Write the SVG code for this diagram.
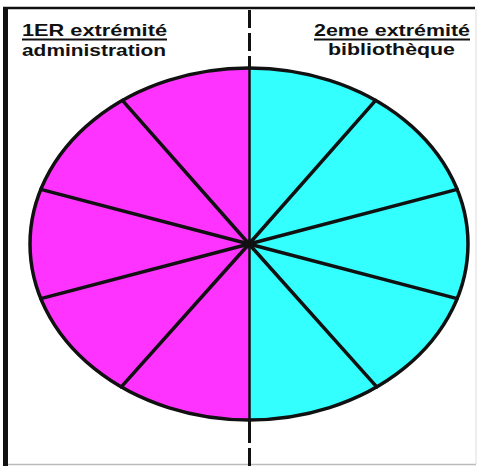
<svg xmlns="http://www.w3.org/2000/svg" width="478" height="466" viewBox="0 0 478 466">
<style>
.lbl{font-family:"Liberation Sans",Arial,sans-serif;font-weight:bold;font-size:16.5px;fill:#111}
.ul{stroke:#111;stroke-width:1.8}
.ray{stroke:#111;stroke-width:3.5;stroke-linecap:round}
</style>
<rect width="478" height="466" fill="#fff"/>
<g id="frame">
<line x1="3" y1="8" x2="475" y2="8" stroke="#111" stroke-width="2.5"/>
<line x1="5.5" y1="7" x2="5.5" y2="466" stroke="#111" stroke-width="5"/>
<line x1="8" y1="464.5" x2="476" y2="464.5" stroke="#bbb" stroke-width="1.5"/>
<line x1="476" y1="9" x2="476" y2="464" stroke="#ddd" stroke-width="1"/>
</g>
<g id="label-left">
<text class="lbl" x="22" y="36" textLength="145" lengthAdjust="spacingAndGlyphs">1ER extrémité</text>
<line class="ul" x1="22" y1="39.5" x2="167" y2="39.5"/>
<text class="lbl" x="22" y="56" textLength="144" lengthAdjust="spacingAndGlyphs">administration</text>
</g>
<g id="label-right">
<text class="lbl" x="314" y="36" textLength="156" lengthAdjust="spacingAndGlyphs">2eme extrémité</text>
<line class="ul" x1="314" y1="39.5" x2="470" y2="39.5"/>
<text class="lbl" x="328" y="55" textLength="127" lengthAdjust="spacingAndGlyphs">bibliothèque</text>
</g>
<g id="disk">
<path d="M249,68 A219,176 0 0 0 249,420 Z" fill="#ff33ff"/>
<path d="M249,68 A219,176 0 0 1 249,420 Z" fill="#33ffff"/>
</g>
<g id="connectors">
<line class="ray" x1="249" y1="244" x2="122.4" y2="100.4"/>
<line class="ray" x1="249" y1="244" x2="40.8" y2="189.4"/>
<line class="ray" x1="249" y1="244" x2="40.8" y2="298.6"/>
<line class="ray" x1="249" y1="244" x2="121.3" y2="386.9"/>
<line class="ray" x1="249" y1="244" x2="375.6" y2="100.4"/>
<line class="ray" x1="249" y1="244" x2="457.2" y2="189.4"/>
<line class="ray" x1="249" y1="244" x2="457.2" y2="298.6"/>
<line class="ray" x1="249" y1="244" x2="376.7" y2="386.9"/>
<line x1="249.5" y1="68" x2="249.5" y2="420" stroke="#111" stroke-width="2.5"/>
<line x1="249.5" y1="10" x2="249.5" y2="68" stroke="#111" stroke-width="3" stroke-dasharray="18 5"/>
<line x1="249.5" y1="421" x2="249.5" y2="466" stroke="#111" stroke-width="3" stroke-dasharray="22 5"/>
<circle cx="249" cy="244" r="4.5" fill="#111"/>
</g>
<g id="outline">
<ellipse cx="249" cy="244" rx="219" ry="176" fill="none" stroke="#111" stroke-width="3.5"/>
</g>
</svg>
